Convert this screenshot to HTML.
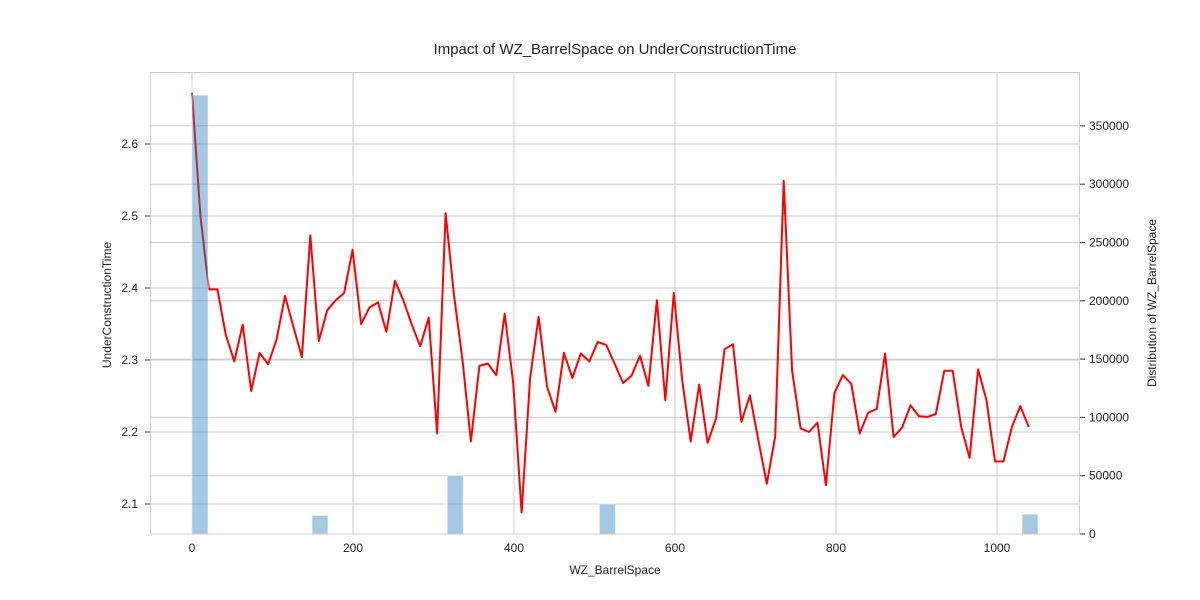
<!DOCTYPE html>
<html><head><meta charset="utf-8"><style>
body{margin:0;background:#fff;}
svg{display:block;font-family:"Liberation Sans","DejaVu Sans",sans-serif;}
</style></head><body>
<svg id="chart" width="1200" height="600" viewBox="0 0 1200 600" xmlns="http://www.w3.org/2000/svg">
<rect width="1200" height="600" fill="#fff"/>
<g id="grid"></g>
<g id="lineLayer"></g>
<g id="barLayer"></g>
<rect x="150.5" y="72.5" width="929" height="461.5" fill="none" stroke="#ccc" stroke-width="1"/>
<g id="axes"></g>
<text x="615" y="54" text-anchor="middle" font-size="15" fill="#222">Impact of WZ_BarrelSpace on UnderConstructionTime</text>
<text x="615" y="574" text-anchor="middle" font-size="12" fill="#222">WZ_BarrelSpace</text>
<text transform="translate(111,305) rotate(-90)" text-anchor="middle" font-size="12" fill="#222">UnderConstructionTime</text>
<text transform="translate(1156,303) rotate(-90)" text-anchor="middle" font-size="12" fill="#222">Distribution of WZ_BarrelSpace</text>
</svg>
<script>
const lineValues=[2.671,2.499,2.398,2.398,2.335,2.298,2.349,2.257,2.310,2.294,2.328,2.389,2.346,2.304,2.473,2.326,2.369,2.383,2.393,2.453,2.350,2.373,2.380,2.339,2.410,2.383,2.349,2.319,2.359,2.198,2.504,2.390,2.300,2.187,2.292,2.295,2.279,2.364,2.268,2.088,2.275,2.360,2.263,2.228,2.310,2.275,2.309,2.298,2.325,2.321,2.295,2.268,2.278,2.306,2.264,2.383,2.244,2.393,2.272,2.187,2.266,2.185,2.219,2.315,2.322,2.214,2.251,2.189,2.128,2.194,2.549,2.285,2.205,2.200,2.213,2.126,2.254,2.279,2.267,2.198,2.227,2.232,2.309,2.193,2.206,2.237,2.222,2.221,2.225,2.285,2.285,2.207,2.164,2.287,2.244,2.159,2.159,2.207,2.236,2.207];
const lineStep=10.5;
const histBinStarts=[0,149,317,506,1031];
const histCounts=[376500,16000,50000,25700,17000];
const histBinWidth=20;
const xTicks=[0,200,400,600,800,1000];
const yTicks=[2.1,2.2,2.3,2.4,2.5,2.6];
const y2Ticks=[0,50000,100000,150000,200000,250000,300000,350000];

const L=150,R=1080,T=72,B=534;
const xs=v=>192+v*0.805;
const ys=v=>144+(2.6-v)*720;
const ys2=v=>534-v*58.3/50000;
const NS="http://www.w3.org/2000/svg";
function mk(tag,attrs,parent){const e=document.createElementNS(NS,tag);for(const k in attrs)e.setAttribute(k,attrs[k]);parent.appendChild(e);return e;}
const grid=document.getElementById('grid'),axes=document.getElementById('axes');
xTicks.forEach(t=>{const x=xs(t);
 const g=mk('line',{x1:x,x2:x,y1:T,y2:B,stroke:'#ccc','stroke-width':1},grid);
 
 
 const tx=mk('text',{x:x,y:B+18,'text-anchor':'middle','font-size':12,fill:'#222'},axes);tx.textContent=t;
 
 
});
yTicks.forEach(t=>{const y=ys(t);
 const g=mk('line',{x1:L,x2:R,y1:y,y2:y,stroke:'#ccc','stroke-width':1},grid);
 
 
 mk('line',{x1:L-5,x2:L,y1:y,y2:y,stroke:'#333','stroke-width':1},axes);
 const tx=mk('text',{x:L-12,y:y+4,'text-anchor':'end','font-size':12,fill:'#222'},axes);tx.textContent=t.toFixed(1);
 
 
});
y2Ticks.forEach(t=>{const y=ys2(t);
 const g=mk('line',{x1:L,x2:R,y1:y,y2:y,stroke:'#ccc','stroke-width':1},grid);
 
 
 mk('line',{x1:R,x2:R+5,y1:y,y2:y,stroke:'#333','stroke-width':1},axes);
 const tx=mk('text',{x:R+9,y:y+4,'text-anchor':'start','font-size':12,fill:'#222'},axes);tx.textContent=t;
 
 
});
const pts=lineValues.map((v,i)=>xs(i*lineStep).toFixed(1)+','+ys(v).toFixed(1)).join(' ');
const pl=mk('polyline',{points:pts,fill:'none',stroke:'#ff0000','stroke-width':2,'stroke-linejoin':'round'},document.getElementById('lineLayer'));


histBinStarts.forEach((s,i)=>{const x0=xs(s),x1=xs(s+histBinWidth),y=ys2(histCounts[i]);
 const r=mk('rect',{x:x0,y:y,width:x1-x0,height:B-y,fill:'rgba(31,119,180,0.4)',stroke:'rgba(255,255,255,0.6)','stroke-width':1},document.getElementById('barLayer'));
 
 
});
</script>
</body></html>
